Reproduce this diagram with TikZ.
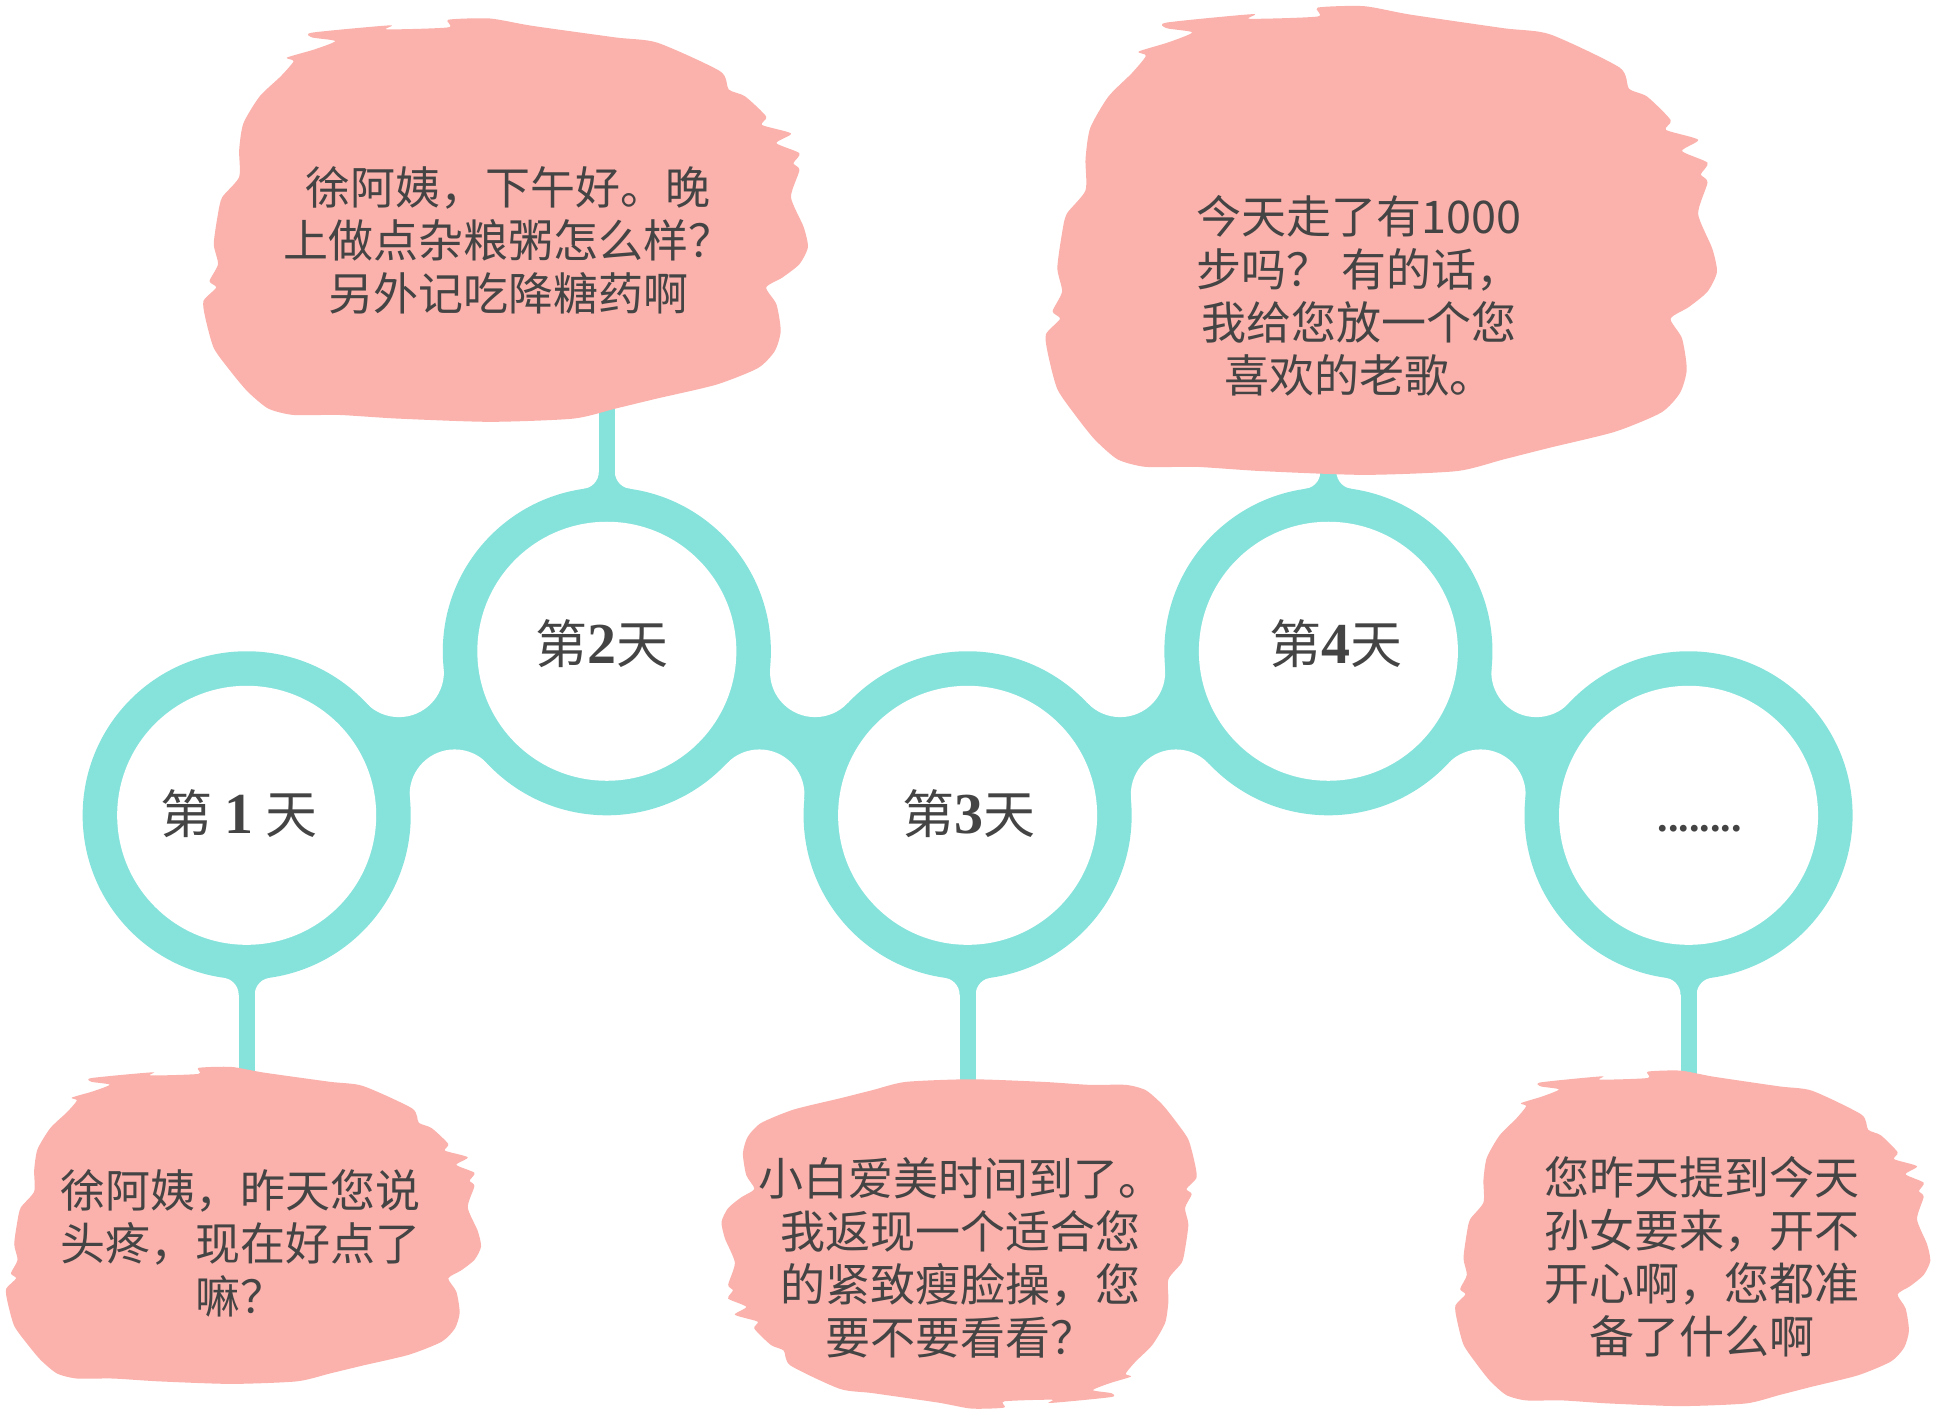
\documentclass[tikz,border=0pt]{standalone}
\usepackage{fontspec}
\setmainfont{Liberation Serif}
\newfontfamily\cjk{Noto Sans CJK SC}
\usetikzlibrary{calc}
\definecolor{ringteal}{HTML}{86E3DC}
\definecolor{blobpink}{HTML}{FBB1AC}
\definecolor{ink}{HTML}{444444}
\newcommand\myblob[1]{\fill[blobpink,#1] plot[smooth cycle,tension=0.4] coordinates {(0.180,0.035) (0.308,0.017) (0.304,0.027) (0.405,0.022) (0.405,0.003) (0.474,0.000) (0.543,0.018) (0.682,0.047) (0.751,0.060) (0.855,0.131) (0.869,0.176) (0.896,0.193) (0.931,0.243) (0.924,0.264) (0.972,0.285) (0.948,0.309) (0.986,0.334) (0.976,0.359) (0.986,0.376) (0.972,0.443) (0.993,0.517) (1.000,0.567) (0.986,0.609) (0.958,0.642) (0.931,0.667) (0.948,0.709) (0.955,0.775) (0.945,0.825) (0.917,0.867) (0.848,0.908) (0.751,0.942) (0.682,0.967) (0.612,0.992) (0.474,1.000) (0.322,0.992) (0.225,0.983) (0.149,0.983) (0.107,0.967) (0.073,0.925) (0.045,0.875) (0.017,0.817) (0.003,0.742) (0.000,0.700) (0.021,0.667) (0.010,0.651) (0.024,0.609) (0.017,0.559) (0.024,0.484) (0.031,0.443) (0.059,0.393) (0.059,0.326) (0.066,0.260) (0.093,0.193) (0.128,0.143) (0.149,0.106) (0.138,0.097) (0.183,0.077) (0.218,0.056) (0.180,0.047)};}
\begin{document}
\begin{tikzpicture}[x=0.6167pt,y=-0.6167pt,
  bubbletext/.style={font=\cjk\fontsize{22.5pt}{26.5pt}\selectfont, text=ink, align=center, inner sep=0pt},
  daytext/.style={font=\cjk\fontsize{26pt}{30pt}\selectfont, text=ink, inner sep=0pt}]
\useasboundingbox (0,0) rectangle (1568,1144);
\fill[white] (0,0) rectangle (1568,1144);
% ring centres
\coordinate (c1) at (200,661);
\coordinate (c2) at (492,528);
\coordinate (c3) at (784.5,661);
\coordinate (c4) at (1077,528);
\coordinate (c5) at (1369,661);
% fillet centres of links
\foreach \i/\j in {1/2,2/3,3/4,4/5}{
  \coordinate (m\i\j) at ($(c\i)!0.5!(c\j)$);
  \coordinate (fa\i\j) at ($(m\i\j)!33.61pt!90:(c\j)$);
  \coordinate (fb\i\j) at ($(m\i\j)!33.61pt!-90:(c\j)$);
}
% stem flare centres
\foreach \i/\s in {1/1,2/-1,3/1,4/-1,5/1}{
  \coordinate (sl\i) at ($(c\i)+(-20.5,\s*145.6)$);
  \coordinate (sr\i) at ($(c\i)+(20.5,\s*145.6)$);
}
% teal base regions
\foreach \i/\j in {1/2,2/3,3/4,4/5}{
  \fill[ringteal] (c\i) -- (fa\i\j) -- (c\j) -- (fb\i\j) -- cycle;
}
\foreach \i in {1,...,5}{
  \fill[ringteal] (c\i) -- (sl\i) -- (sr\i) -- cycle;
}
% white fillets
\foreach \i/\j in {1/2,2/3,3/4,4/5}{
  \fill[white] (fa\i\j) circle[radius=36.5];
  \fill[white] (fb\i\j) circle[radius=36.5];
}
\foreach \i in {1,...,5}{
  \fill[white] (sl\i) circle[radius=14];
  \fill[white] (sr\i) circle[radius=14];
}
% stems
\fill[ringteal] ($(c1)+(-6.5,0)$) rectangle ($(c1)+(6.5,239)$);
\fill[ringteal] ($(c2)+(-6.5,0)$) rectangle ($(c2)+(6.5,-228)$);
\fill[ringteal] ($(c3)+(-6.5,0)$) rectangle ($(c3)+(6.5,244)$);
\fill[ringteal] ($(c4)+(-6.5,0)$) rectangle ($(c4)+(6.5,-168)$);
\fill[ringteal] ($(c5)+(-6.5,0)$) rectangle ($(c5)+(6.5,239)$);
% rings
\foreach \i in {1,...,5}{
  \fill[ringteal] (c\i) circle[radius=133];
}
\foreach \i in {1,...,5}{
  \fill[white] (c\i) circle[radius=105];
}
% blobs
\myblob{shift={(165,15)},xscale=490,yscale=327}
\myblob{shift={(848,5)},xscale=544,yscale=380}
\myblob{shift={(5,865)},xscale=385,yscale=257}
\myblob{shift={(970,1142)},xscale=-385,yscale=-267}
\myblob{shift={(1180,868)},xscale=385,yscale=272}
% day labels
\node[daytext] (d1) at (194,660) {第\hspace{6pt}{\rmfamily\bfseries\fontsize{29pt}{30pt}\selectfont 1}\hspace{6pt}天};
\node[daytext] (d2) at (488,522) {第{\rmfamily\bfseries\fontsize{29pt}{30pt}\selectfont 2}天};
\node[daytext] (d3) at (786,660) {第{\rmfamily\bfseries\fontsize{29pt}{30pt}\selectfont 3}天};
\node[daytext] (d4) at (1083,522) {第{\rmfamily\bfseries\fontsize{29pt}{30pt}\selectfont 4}天};
\node[text=ink, inner sep=0pt, font=\rmfamily\bfseries\fontsize{21pt}{21pt}\selectfont] (d5) at (1378,672) {........};
% bubble texts
\node[bubbletext] (t2) at (412,195) {徐阿姨，下午好。晚\\上做点杂粮粥怎么样？\\另外记吃降糖药啊};
\node[bubbletext] (t4) at (1102,240) {今天走了有1000\\步吗？ 有的话，\\我给您放一个您\\喜欢的老歌。};
\node[bubbletext] (t1) at (195,1008) {徐阿姨，昨天您说\\头疼，现在好点了\\嘛？};
\node[bubbletext] (t3) at (779,1020) {小白爱美时间到了。\\我返现一个适合您\\的紧致瘦脸操，您\\要不要看看？};
\node[bubbletext] (t5) at (1380,1019) {您昨天提到今天\\孙女要来，开不\\开心啊，您都准\\备了什么啊};
\end{tikzpicture}
\end{document}
